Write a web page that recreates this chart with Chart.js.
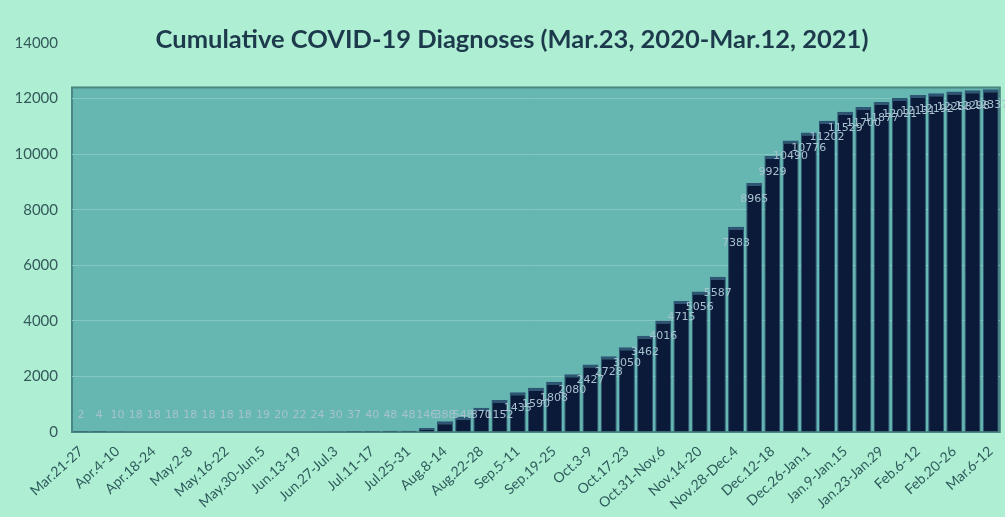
<!DOCTYPE html>
<html>
<head>
<meta charset="utf-8">
<script src="https://cdn.jsdelivr.net/npm/chart.js@4"></script>
<style>
	body { margin: 0; background: #aeefd3; }
	canvas { display: block; }
</style>
</head>
<body>
<canvas id="chart" width="1005" height="517"></canvas>
<script>
const title = 'Cumulative COVID-19 Diagnoses (Mar.23, 2020-Mar.12, 2021)'

// weekly periods, only every other one is labelled on the axis
const weeks = [
	'Mar.21-27', 'Mar.28-Apr.3', 'Apr.4-10', 'Apr.11-17', 'Apr.18-24', 'Apr.25-May.1',
	'May.2-8', 'May.9-15', 'May.16-22', 'May.23-29', 'May.30-Jun.5', 'Jun.6-12',
	'Jun.13-19', 'Jun.20-26', 'Jun.27-Jul.3', 'Jul.4-10', 'Jul.11-17', 'Jul.18-24',
	'Jul.25-31', 'Aug.1-7', 'Aug.8-14', 'Aug.15-21', 'Aug.22-28', 'Aug.29-Sep.4',
	'Sep.5-11', 'Sep.12-18', 'Sep.19-25', 'Sep.26-Oct.2', 'Oct.3-9', 'Oct.10-16',
	'Oct.17-23', 'Oct.24-30', 'Oct.31-Nov.6', 'Nov.7-13', 'Nov.14-20', 'Nov.21-27',
	'Nov.28-Dec.4', 'Dec.5-11', 'Dec.12-18', 'Dec.19-25', 'Dec.26-Jan.1', 'Jan.2-8',
	'Jan.9-Jan.15', 'Jan.16-22', 'Jan.23-Jan.29', 'Jan.30-Feb.5', 'Feb.6-12', 'Feb.13-19',
	'Feb.20-26', 'Feb.27-Mar.5', 'Mar.6-12',
]

const cumulative = [
	2, 4, 10, 18, 18, 18, 18, 18, 18, 18,
	19, 20, 22, 24, 30, 37, 40, 48, 48, 146,
	388, 548, 870, 1152, 1435, 1590, 1808, 2080, 2427, 2728,
	3050, 3462, 4016, 4715, 5056, 5587, 7383, 8965, 9929, 10490,
	10776, 11202, 11529, 11700, 11877, 12021, 12131, 12192, 12258, 12298,
	12337,
]

const yTicks = [0, 2000, 4000, 6000, 8000, 10000, 12000, 14000]
const wallTop = 12400

const wallPlugin = {
	id: 'wall',
	beforeDraw(chart) {
		const { ctx, chartArea } = chart
		const y = chart.scales.y
		const top = y.getPixelForValue(wallTop)
		ctx.save()
		ctx.fillStyle = '#66b7b1'
		ctx.fillRect(chartArea.left, top, chartArea.right - chartArea.left, chartArea.bottom - top)
		ctx.strokeStyle = '#4b8683'
		ctx.lineWidth = 2
		ctx.strokeRect(chartArea.left, top, chartArea.right - chartArea.left, chartArea.bottom - top)
		ctx.restore()
	},
	afterDraw(chart) {
		const { ctx } = chart
		ctx.save()
		ctx.font = 'bold 25.5px Lato'
		ctx.fillStyle = '#1d3a4c'
		ctx.textAlign = 'center'
		ctx.textBaseline = 'middle'
		ctx.fillText(title, 512, 40)
		ctx.restore()
	},
}

const valueLabels = {
	id: 'valueLabels',
	afterDatasetsDraw(chart) {
		const { ctx, chartArea } = chart
		const meta = chart.getDatasetMeta(0)
		ctx.save()
		ctx.font = '11px "DejaVu Sans"'
		ctx.fillStyle = '#a7c2cf'
		ctx.textAlign = 'center'
		ctx.textBaseline = 'middle'
		meta.data.forEach((bar, i) => {
			const y = Math.min(bar.y + 16, chartArea.bottom - 17)
			ctx.fillText(cumulative[i], bar.x, y)
		})
		ctx.restore()
	},
}

new Chart(document.getElementById('chart'), {
	type: 'bar',
	data: {
		labels: weeks,
		datasets: [
			{
				data: cumulative,
				backgroundColor: '#0a1a38',
				borderColor: '#2f5575',
				borderWidth: { top: 3, left: 1, right: 1, bottom: 0 },
				borderSkipped: false,
				barPercentage: 0.88,
				categoryPercentage: 1,
			},
		],
	},
	options: {
		responsive: false,
		animation: false,
		layout: { padding: { top: 43, right: 2, left: 0, bottom: 0 } },
		plugins: {
			legend: { display: false },
			tooltip: { enabled: false },
		},
		scales: {
			x: {
				grid: { display: false },
				border: { display: false },
				afterFit: (scale) => { scale.height = 85 },
				ticks: {
					autoSkip: false,
					maxRotation: 42,
					minRotation: 42,
					color: '#2f5a5c',
					font: { family: 'Lato', size: 14 },
					padding: 3,
					callback: (value, index) => (index % 2 === 0 ? weeks[index] : ''),
				},
			},
			y: {
				min: 0,
				max: 14000,
				afterFit: (scale) => { scale.width = 72 },
				afterBuildTicks: (scale) => { scale.ticks = yTicks.map((v) => ({ value: v })) },
				border: { display: false },
				grid: {
					drawTicks: false,
					color: (c) => (c.tick && c.tick.value > 0 && c.tick.value < wallTop ? '#84c6c1' : 'transparent'),
				},
				ticks: {
					color: '#35595b',
					font: { family: 'Lato', size: 15 },
					padding: 14,
					callback: (value) => String(value),
				},
			},
		},
	},
	plugins: [wallPlugin, valueLabels],
})
</script>
</body>
</html>
